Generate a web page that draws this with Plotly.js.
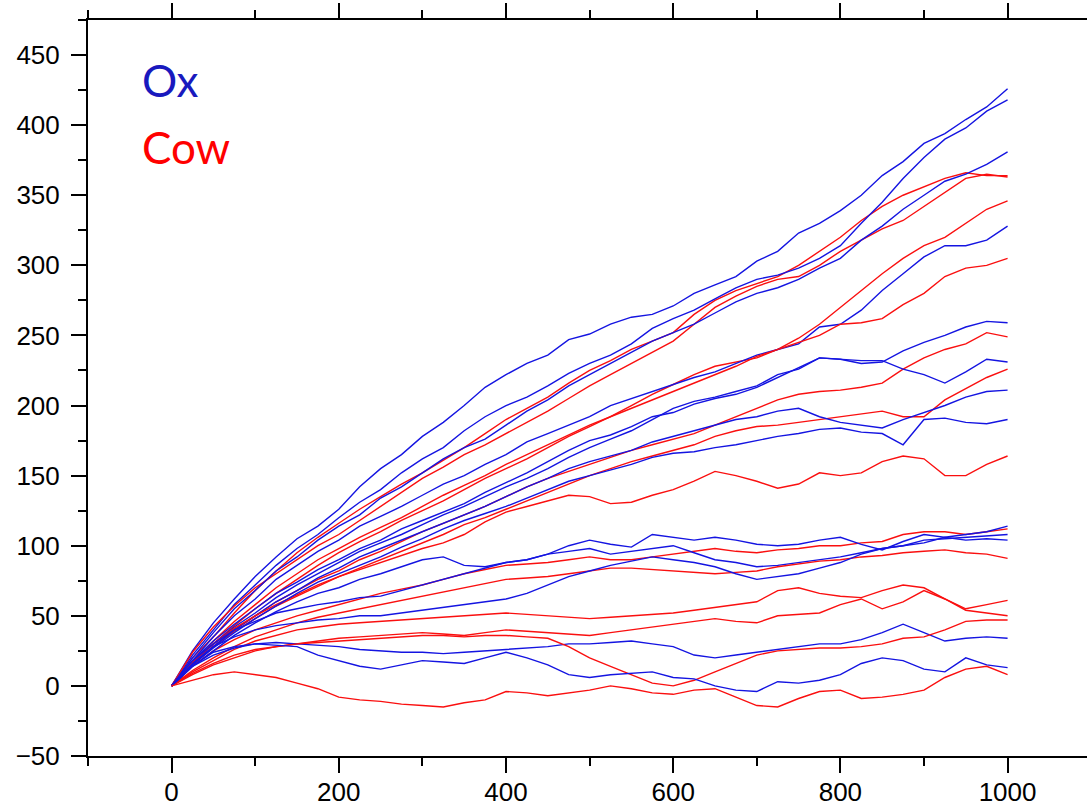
<!DOCTYPE html>
<html>
<head>
<meta charset="utf-8">
<script src="https://cdn.plot.ly/plotly-3.0.1.min.js"></script>
<style>html,body{margin:0;padding:0;background:#fff;}#chart{width:1087px;height:809px;}</style>
</head>
<body>
<div id="chart"></div>
<script>
// Steps (x axis)
const steps = [0,25,50,75,100,125,150,175,200,225,250,275,300,325,350,375,400,425,450,475,500,
               525,550,575,600,625,650,675,700,725,750,775,800,825,850,875,900,925,950,975,1000];

// Ox series (blue)
const ox1  = [0,25,45,62,78,92,105,114,126,142,155,165,178,188,200,213,222,230,236,247,251,258,263,265,271,280,286,292,303,310,323,330,339,350,364,374,387,394,404,413,426];
const ox2  = [0,22,40,58,72,86,98,108,120,131,140,152,162,170,182,192,200,206,214,223,230,236,244,255,262,268,276,284,290,293,298,305,314,330,345,362,377,390,398,410,418];
const ox3  = [0,20,38,55,68,82,92,104,114,122,134,142,152,162,170,176,186,196,204,214,222,230,238,246,252,258,266,274,280,284,290,298,305,318,328,340,350,360,365,372,381];
const ox4  = [0,18,35,50,62,76,86,96,104,114,121,128,136,144,150,158,165,174,180,186,192,200,205,210,215,220,224,230,236,240,244,256,258,268,282,294,306,314,314,318,328];
const ox5  = [0,18,32,44,55,66,74,83,90,98,104,112,118,124,130,138,145,152,160,168,175,179,185,192,195,201,205,208,213,220,227,234,233,230,231,239,245,250,256,260,259];
const ox6  = [0,17,30,42,52,63,72,80,88,96,102,108,115,122,128,135,142,148,155,163,170,176,182,190,198,203,206,210,214,222,226,234,233,232,232,226,222,216,224,233,231];
const ox7  = [0,16,28,40,50,60,68,77,84,92,98,104,110,116,122,128,135,142,148,155,160,164,168,174,178,182,186,190,192,196,198,192,188,186,184,190,195,200,206,210,211];
const ox8  = [0,15,27,38,48,57,66,74,80,86,92,99,105,112,118,123,128,134,140,146,150,154,158,163,166,167,170,172,175,178,180,183,184,181,180,172,190,191,188,187,190];
const ox9  = [0,18,30,40,46,52,55,58,60,63,64,68,72,76,80,84,88,90,94,96,98,94,96,98,100,95,90,88,85,86,88,90,92,95,98,100,102,106,108,110,114];
const ox10 = [0,14,25,36,45,53,60,66,70,76,80,85,90,92,86,85,88,90,94,100,104,101,99,108,106,104,106,104,101,100,101,104,106,101,97,103,108,106,104,105,104];
const ox11 = [0,16,28,35,40,43,45,47,48,50,50,52,54,56,58,60,62,66,72,78,82,86,89,92,90,88,85,80,76,78,80,84,88,94,98,100,104,105,106,107,108];
const ox12 = [0,14,22,27,30,31,30,29,28,26,25,24,24,23,24,25,26,27,28,30,30,31,32,30,28,22,20,22,24,26,28,30,30,33,38,44,38,32,34,35,34];
const ox13 = [0,14,24,28,30,29,28,22,18,14,12,15,18,17,16,20,24,20,15,8,6,8,9,10,6,5,0,-3,-4,3,2,4,8,16,20,18,12,10,20,15,13];

// Cow series (red)
const cow1  = [0,20,35,52,68,82,95,106,116,126,135,144,152,161,170,180,190,198,206,216,225,232,240,246,252,265,275,282,287,292,300,310,320,332,342,350,356,362,366,364,364];
const cow2  = [0,24,42,57,70,80,90,100,108,118,128,138,148,156,165,172,180,188,196,205,214,222,230,238,246,258,270,278,285,290,292,300,310,318,326,332,342,352,362,365,363];
const cow3  = [0,16,30,43,55,66,76,86,95,103,110,118,125,132,140,148,155,162,170,178,185,192,200,208,215,222,228,231,234,240,248,258,270,282,294,305,314,320,330,340,346];
const cow4  = [0,17,32,46,58,70,80,90,98,106,113,120,128,136,143,150,158,165,172,179,186,192,198,204,210,216,222,228,235,240,245,250,258,259,262,272,280,292,298,300,305];
const cow5  = [0,15,28,40,50,60,68,76,82,90,96,103,110,116,122,128,135,142,148,153,158,163,168,172,176,180,186,192,198,204,208,210,211,213,216,226,234,240,244,252,249];
const cow6  = [0,15,28,39,48,57,64,71,78,84,90,96,102,108,115,120,126,132,138,144,150,155,160,164,168,172,178,182,185,186,188,190,192,194,196,192,192,204,212,220,226];
const cow7  = [0,17,30,41,50,58,65,72,78,83,88,93,98,102,108,117,124,128,132,136,135,130,131,136,140,146,153,150,146,141,144,152,150,152,160,164,162,150,150,158,164];
const cow8  = [0,14,25,33,40,45,50,54,58,62,66,69,72,76,80,83,86,87,88,90,92,90,90,92,94,96,98,96,95,97,98,100,100,102,103,108,110,110,108,110,112];
const cow9  = [0,11,20,28,35,40,45,49,52,55,58,61,64,67,70,73,76,77,78,80,82,84,84,83,82,81,80,81,82,85,87,89,90,92,93,95,96,97,95,94,91];
const cow10 = [0,10,18,26,32,36,40,42,44,45,46,47,48,49,50,51,52,51,50,49,48,49,50,51,52,54,56,58,60,68,70,66,64,63,68,72,70,62,55,58,61];
const cow11 = [0,9,16,22,26,28,30,32,34,35,36,37,38,37,36,38,40,39,38,37,36,38,40,42,44,46,48,46,45,50,51,52,58,62,55,60,68,62,54,52,50];
const cow12 = [0,8,15,20,25,28,30,31,32,33,34,35,36,36,35,36,36,35,34,28,20,14,8,2,0,4,10,16,22,25,26,27,27,28,30,34,35,40,46,47,47];
const cow13 = [0,4,8,10,8,6,2,-2,-8,-10,-11,-13,-14,-15,-12,-10,-4,-5,-7,-5,-3,0,-2,-5,-6,-3,-2,-8,-14,-15,-9,-4,-3,-9,-8,-6,-3,6,12,14,8];

const oxSeries  = [ox1,ox2,ox3,ox4,ox5,ox6,ox7,ox8,ox9,ox10,ox11,ox12,ox13];
const cowSeries = [cow1,cow2,cow3,cow4,cow5,cow6,cow7,cow8,cow9,cow10,cow11,cow12,cow13];

const BLUE = 'rgb(20,20,225)';
const RED  = 'rgb(250,15,15)';

const traces = [];
const n = Math.max(oxSeries.length, cowSeries.length);
for (let i = 0; i < n; i++) {
  if (oxSeries[i]) traces.push({x: steps, y: oxSeries[i], type: 'scatter', mode: 'lines',
    line: {color: BLUE, width: 1.4}, showlegend: false, hoverinfo: 'skip'});
  if (cowSeries[i]) traces.push({x: steps, y: cowSeries[i], type: 'scatter', mode: 'lines',
    line: {color: RED, width: 1.4}, showlegend: false, hoverinfo: 'skip'});
}

const tickFont = {family: '"Liberation Sans", Arial, sans-serif', size: 26, color: '#000'};

const layout = {
  width: 1087, height: 809,
  margin: {l: 88, r: 0, t: 20, b: 53},
  paper_bgcolor: '#fff', plot_bgcolor: '#fff',
  showlegend: false,
  xaxis: {
    range: [-100, 1095], showgrid: false, zeroline: false,
    showline: true, linecolor: '#000', linewidth: 2, mirror: 'ticks',
    ticks: 'outside', ticklen: 15, tickwidth: 2, tickcolor: '#000',
    tick0: 0, dtick: 200, tickfont: tickFont, ticklabelstandoff: -3,
    minor: {dtick: 100, tick0: 0, ticks: 'outside', ticklen: 8, tickwidth: 2, tickcolor: '#000'}
  },
  yaxis: {
    range: [-50, 475], showgrid: false, zeroline: false,
    showline: true, linecolor: '#000', linewidth: 2, mirror: false,
    ticks: 'outside', ticklen: 15, tickwidth: 2, tickcolor: '#000',
    tick0: 0, dtick: 50, tickfont: tickFont, ticklabelstandoff: 6,
    minor: {dtick: 25, tick0: 0, ticks: 'outside', ticklen: 8, tickwidth: 2, tickcolor: '#000'}
  },
  annotations: [
    {xref: 'paper', yref: 'paper', x: 0.052, y: 0.918, xanchor: 'left', yanchor: 'middle',
     text: 'Ox', showarrow: false, font: {family: 'Lato, "Open Sans", sans-serif', size: 44, color: 'rgb(25,25,190)'}},
    {xref: 'paper', yref: 'paper', x: 0.052, y: 0.827, xanchor: 'left', yanchor: 'middle',
     text: 'Cow', showarrow: false, font: {family: 'Lato, "Open Sans", sans-serif', size: 44, color: 'rgb(255,0,0)'}}
  ]
};

Plotly.newPlot('chart', traces, layout, {displayModeBar: false, staticPlot: true});
</script>
</body>
</html>
